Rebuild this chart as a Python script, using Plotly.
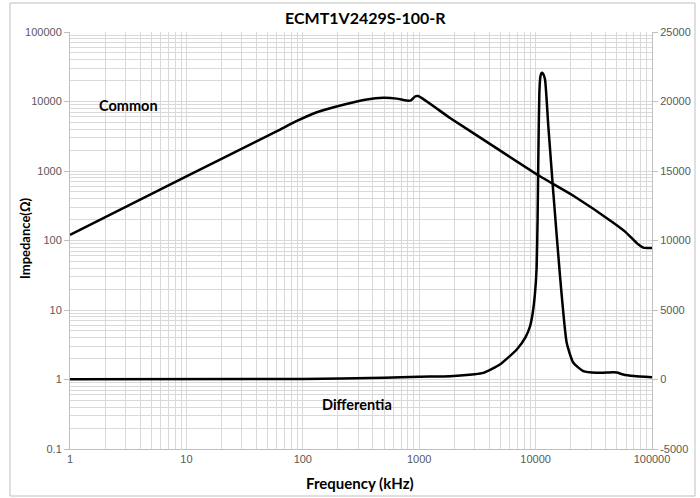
import plotly.graph_objects as go

# ---- data ----
common_freq = [1, 10, 60, 88, 132, 223, 354, 492, 640, 781, 850, 920, 980,
               1840, 4330, 10900, 21100, 46500, 60000, 73800, 84300, 100000]
common_imp = [120, 835, 3740, 5200, 7000, 9000, 10700, 11300, 11000, 10300,
              10400, 11800, 12000, 5800, 2280, 840, 440, 180, 130, 92, 79, 78]

diff_freq = [1, 100, 500, 1000, 1840, 3000, 3555, 4940, 6890, 8200, 8960, 9450, 9890, 10200,
             10400, 10550, 10770, 11000, 11280, 11600, 12050, 12860, 14200, 16210, 18500,
             21100, 25700, 33400, 46500, 50000, 56600, 70000, 100000]
diff_imp = [10, 40, 120, 200, 240, 380, 480, 1080, 2160, 3050, 3830, 4800, 6240, 8000,
            11500, 15830, 20630, 21800, 22060, 22000, 21580, 18220, 13430, 7430, 2640,
            1200, 600, 480, 525, 500, 360, 250, 170]

x_ticks = [1, 10, 100, 1000, 10000, 100000]
x_labels = ["1", "10", "100", "1000", "10000", "100000"]
y_ticks = [0.1, 1, 10, 100, 1000, 10000, 100000]
y_labels = ["0.1", "1", "10", "100", "1000", "10000", "100000"]
y2_ticks = [-5000, 0, 5000, 10000, 15000, 20000, 25000]
y2_labels = ["-5000", "0", "5000", "10000", "15000", "20000", "25000"]

title = "ECMT1V2429S-100-R"

# ---- figure ----
grid = "#d9d9d9"
tickfont = dict(family="Liberation Sans Narrow, Liberation Sans, Arial", size=11, color="#595959")
boldfont = "Lato, Open Sans, Arial"

L, R, T, B = 70, 48, 32, 49
PW, PH = 700 - L - R, 498 - T - B


def px(xp):
    return (xp - L) / PW


def py(yp):
    return (498 - B - yp) / PH


x_minor = [k * 10 ** e for e in range(0, 5) for k in range(2, 10)]
y_minor = [k * 10.0 ** e for e in range(-1, 5) for k in range(2, 10)]

fig = go.Figure()
fig.add_trace(go.Scatter(x=common_freq, y=common_imp, mode="lines",
                         line=dict(color="black", width=2.5, shape="spline", smoothing=0.5),
                         name="Common", yaxis="y"))
fig.add_trace(go.Scatter(x=diff_freq, y=diff_imp, mode="lines",
                         line=dict(color="black", width=2.5, shape="spline", smoothing=0.5),
                         name="Differential", yaxis="y2"))

fig.update_layout(
    width=700, height=498,
    margin=dict(l=L, r=R, t=T, b=B, autoexpand=False),
    paper_bgcolor="white", plot_bgcolor="white",
    showlegend=False,
    xaxis=dict(type="log", range=[0, 5], tickvals=x_ticks, ticktext=x_labels,
               showgrid=True, gridcolor=grid, gridwidth=1,
               minor=dict(tickvals=x_minor, showgrid=True, gridcolor=grid, ticks=""),
               showline=True, linecolor="#bfbfbf", ticks="", tickfont=tickfont,
               zeroline=False),
    yaxis=dict(type="log", range=[-1, 5], tickvals=y_ticks, ticktext=y_labels,
               showgrid=True, gridcolor=grid, gridwidth=1,
               minor=dict(tickvals=y_minor, showgrid=True, gridcolor=grid, ticks=""),
               showline=True, linecolor="#bfbfbf", ticks="outside", ticklen=5, tickcolor="#bfbfbf",
               tickfont=tickfont, zeroline=False),
    yaxis2=dict(overlaying="y", side="right", range=[-5000, 25000], tickvals=y2_ticks,
                ticktext=y2_labels,
                showgrid=False, showline=True, linecolor="#bfbfbf", ticks="outside", ticklen=5,
                tickcolor="#bfbfbf", tickfont=tickfont, zeroline=False),
)

# outer chart frame
fig.add_shape(type="rect", xref="paper", yref="paper",
              x0=px(10), x1=px(695), y0=py(496), y1=py(3),
              line=dict(color="#bfbfbf", width=1), fillcolor="rgba(0,0,0,0)", layer="below")

fig.add_annotation(text="<b>" + title + "</b>", xref="paper", yref="paper",
                   x=px(365), y=py(18), xanchor="center", yanchor="middle",
                   showarrow=False, font=dict(family=boldfont, size=16, color="black"))
fig.add_annotation(text="<b>Frequency (kHz)</b>", xref="paper", yref="paper",
                   x=px(360), y=py(483), xanchor="center", yanchor="middle",
                   showarrow=False, font=dict(family=boldfont, size=15, color="black"))
fig.add_annotation(text="<b>Impedance(Ω)</b>", xref="paper", yref="paper",
                   x=px(25), y=py(238), xanchor="center", yanchor="middle", textangle=-90,
                   showarrow=False, font=dict(family=boldfont, size=13, color="black"))
fig.add_annotation(text="<b>Common</b>", xref="paper", yref="paper",
                   x=px(97), y=py(105), xanchor="left", yanchor="middle",
                   showarrow=False, font=dict(family=boldfont, size=14.5, color="black"))
fig.add_annotation(text="<b>Differentia</b>", xref="paper", yref="paper",
                   x=px(320), y=py(404), xanchor="left", yanchor="middle",
                   showarrow=False, font=dict(family=boldfont, size=14.5, color="black"))

fig.write_html("out.html", config={"displayModeBar": False},
               post_script="document.body.style.margin='0';")
